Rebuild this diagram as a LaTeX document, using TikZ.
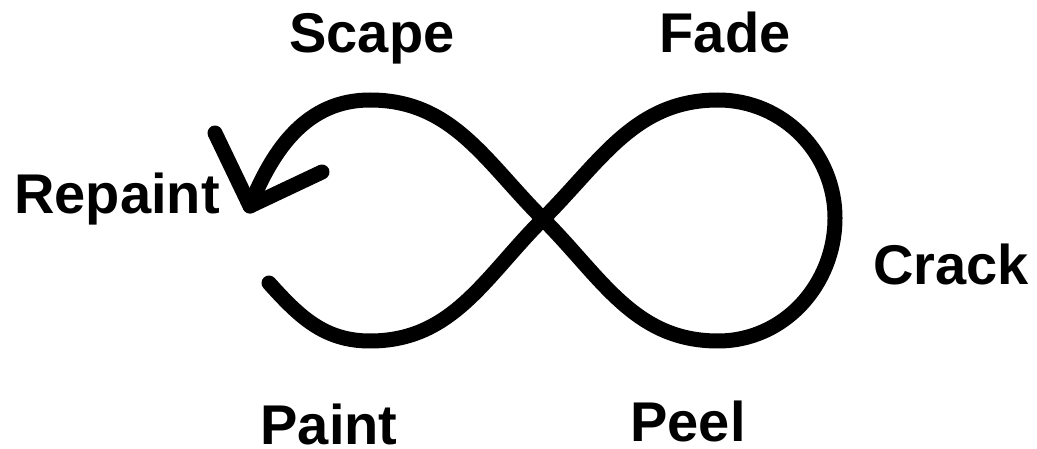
\documentclass[tikz,border=0pt]{standalone}
\usepackage{fontspec}
\setmainfont{Liberation Sans}
\begin{document}
\begin{tikzpicture}[x=1pt,y=1pt,
  lbl/.style={anchor=base,inner sep=0pt,font=\fontsize{56}{60}\selectfont\bfseries},
  loopline/.style={line width=15pt,line cap=round,line join=round}]
\useasboundingbox (0,0) rectangle (1037,-449);
% key points of the loop
\coordinate (S)  at (269,-283);
\coordinate (B1) at (370,-341);
\coordinate (X)  at (543,-219);
\coordinate (T2) at (718,-100);
\coordinate (R)  at (835,-218);
\coordinate (B2) at (718,-341);
\coordinate (T1) at (370,-100);
\coordinate (tip) at (250,-206);
\coordinate (armL) at (215,-133);
\coordinate (armR) at (322,-172);
\draw[loopline] (S) to[out=-48,in=180] (B1) to[out=0,in=-135] (X)
  to[out=45,in=180] (T2) to[out=0,in=90] (R) to[out=-90,in=0] (B2)
  to[out=180,in=-45] (X) to[out=135,in=0] (T1) to[out=180,in=68] (tip);
\draw[loopline] (armL) -- (tip) -- (armR);
% labels
\node[lbl] (scape) at (372,-53) {Scape};
\node[lbl] (fade) at (725,-53) {Fade};
\node[lbl] (repaint) at (117,-214) {Repaint};
\node[lbl] (crack) at (951,-285) {Crack};
\node[lbl] (paint) at (329,-444) {Paint};
\node[lbl] (peel) at (688,-441) {Peel};
\end{tikzpicture}
\end{document}
